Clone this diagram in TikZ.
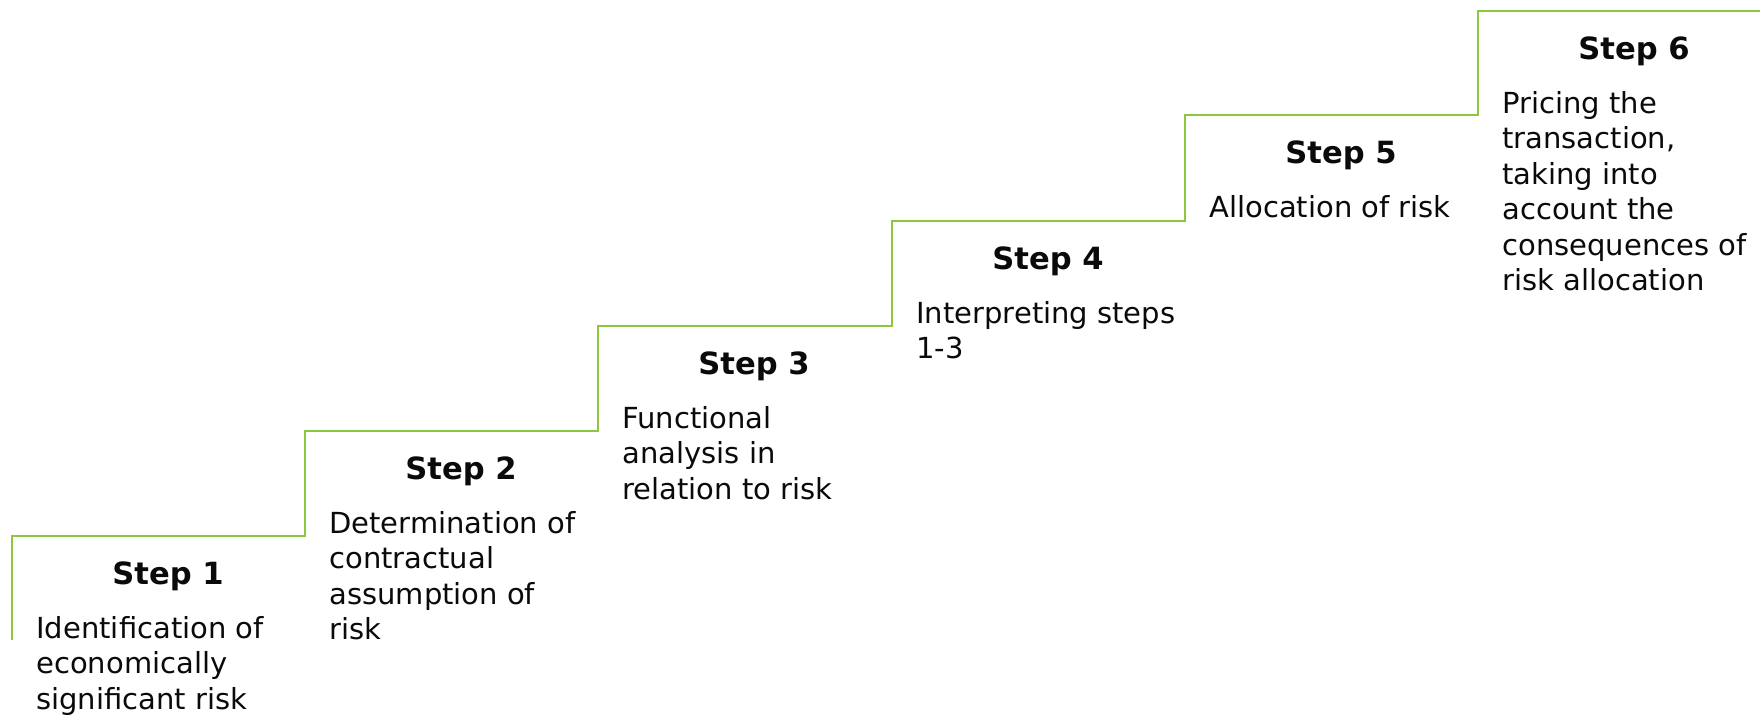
\documentclass[tikz,border=0pt]{standalone}
\usepackage{fontspec}
\setmainfont{DejaVu Sans}
\usetikzlibrary{calc}
\definecolor{stairgreen}{HTML}{8DC63F}
\definecolor{inktext}{HTML}{0A0A0A}

\begin{document}
\begin{tikzpicture}[x=0.5pt,y=-0.5pt,
  stair/.style={draw=stairgreen, line width=1.1pt},
  stephead/.style={font=\fontsize{15.3}{18}\selectfont\bfseries, text=inktext, anchor=base, inner sep=0pt},
  stepbody/.style={font=\fontsize{14.5}{17.7}\selectfont, text=inktext, align=left, anchor=north west, inner sep=0pt},
]
\useasboundingbox (0,0) rectangle (1760,714);

% corners of the staircase: riser foot (x) at each tread level (y)
\coordinate (s0) at (12,640);
\coordinate (s1) at (12,536);
\coordinate (s2) at (305,431);
\coordinate (s3) at (598,326);
\coordinate (s4) at (892,221);
\coordinate (s5) at (1185,115);
\coordinate (s6) at (1478,11);
\coordinate (send) at (1760,11);

\draw[stair] (s0) -- (s1) -| (s2) -| (s3) -| (s4) -| (s5) -| (s6) -- (send);

% heading and description of each step
\newcommand{\stepstrut}{\rule{0pt}{12pt}}
\foreach \k/\body in {
  1/{Identification of\\economically\\significant risk},
  2/{Determination of\\contractual\\assumption of\\risk},
  3/{Functional\\analysis in\\relation to risk},
  4/{Interpreting steps\\1-3},
  5/{Allocation of risk},
  6/{Pricing the\\transaction,\\taking into\\account the\\consequences of\\risk allocation}}
{
  \node[stephead] (h\k) at ($(s\k)+(156,48)$) {Step \k};
  \node[stepbody] (b\k) at ($(s\k)+(24,78)$) {\stepstrut\body};
}
\end{tikzpicture}
\end{document}
